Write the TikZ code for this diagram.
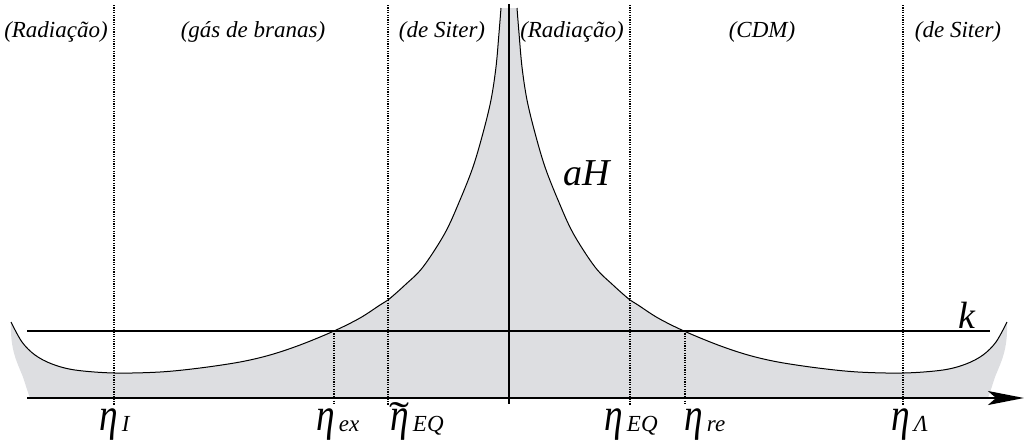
\documentclass[tikz,border=0pt]{standalone}
\usepackage{fontspec}
\setmainfont{Liberation Serif}
\usetikzlibrary{arrows.meta}
\definecolor{areagray}{RGB}{221,222,225}
\newcommand\etaglyph{\scalebox{0.85}[1.05]{\fontsize{22}{22}\selectfont\itshape η}}
\newcommand\etasub[2]{#1\kern2pt\raisebox{-0.5pt}{\fontsize{11.5}{12}\selectfont\itshape #2}}
\newcommand\etatilde{\makebox[0pt][l]{\kern0.5pt\raisebox{0.5pt}{\scalebox{1.5}[1]{\fontsize{20}{20}\selectfont\char"02DC}}}\kern1pt\etaglyph}
\begin{document}
\begin{tikzpicture}[x=0.5pt,y=-0.5pt,
  guide/.style={draw=black, line width=0.55pt, dash pattern=on 0.55pt off 0.65pt},
  curve/.style={line width=0.5pt},
  toplabel/.style={font=\fontsize{11.5}{13}\selectfont\itshape, anchor=base, inner sep=0pt},
  etalabel/.style={anchor=base west, inner sep=0pt},
  biglabel/.style={font=\fontsize{19}{19}\selectfont\itshape, anchor=base west, inner sep=0pt},
]
\useasboundingbox (0,0) rectangle (1025,441);
% shaded area and curve (left half, mirrored for right half)
\foreach \s/\o in {1/0,-1/1018}{
\begin{scope}[shift={(\o,0)}, xscale=\s]
\fill[areagray] (30,398) .. controls (27,390) and (26,386) .. (23,377)
  .. controls (17,362) and (10,350) .. (11,322)
  -- plot[smooth, tension=0.55] coordinates {(11,322) (22,342) (35,355) (52,364) (75,370) (114,373) (160,372) (200,368) (240,362) (270,355) (300,345) (334,331) (360,318) (380,305) (388,300) (405,285) (423,267) (445,233) (460,200) (473,167) (483,133) (491,100) (496,67) (499,33) (501,8)}
  -- (509,8) -- (509,398) -- cycle;
\draw[curve] plot[smooth, tension=0.55] coordinates {(11,322) (22,342) (35,355) (52,364) (75,370) (114,373) (160,372) (200,368) (240,362) (270,355) (300,345) (334,331) (360,318) (380,305) (388,300) (405,285) (423,267) (445,233) (460,200) (473,167) (483,133) (491,100) (496,67) (499,33) (501,8)};
\end{scope}
}
% guide lines
\draw[guide] (114,5) -- (114,405);
\draw[guide] (388,5) -- (388,405);
\draw[guide] (630,5) -- (630,405);
\draw[guide] (903,5) -- (903,405);
\draw[guide] (334,331) -- (334,405);
\draw[guide] (685,331) -- (685,405);
% axes
\coordinate (kL) at (27,331);
\coordinate (kR) at (990,331);
\draw[line width=0.75pt] (kL) -- (kR);
\coordinate (vT) at (509,4);
\coordinate (vB) at (509,404);
\draw[line width=0.8pt] (vT) -- (vB);
\coordinate (aL) at (27,398);
\coordinate (aR) at (1024,398);
\draw[line width=1pt, -{Stealth[length=18pt,width=7pt,inset=4pt]}] (aL) -- (aR);
% top labels
\node[toplabel] (t1) at (56,37) {(Radiação)};
\node[toplabel] (t2) at (253,37) {(gás de branas)};
\node[toplabel] (t3) at (442,37) {(de Siter)};
\node[toplabel] (t4) at (572,37) {(Radiação)};
\node[toplabel] (t5) at (762,37) {(CDM)};
\node[toplabel] (t6) at (958,37) {(de Siter)};
% curve labels
\node[biglabel] (aH) at (563,185) {aH};
\node[biglabel] (k) at (958,328) {k};
% eta labels
\node[etalabel] (e1) at (99,430) {\etasub{\etaglyph}{I}};
\node[etalabel] (e2) at (316,430) {\etasub{\etaglyph}{ex}};
\node[etalabel] (e3) at (388,430) {\etasub{\etatilde}{EQ}};
\node[etalabel] (e4) at (604,430) {\etasub{\etaglyph}{EQ}};
\node[etalabel] (e5) at (684,430) {\etasub{\etaglyph}{re}};
\node[etalabel] (e6) at (891,430) {\etasub{\etaglyph}{Λ}};
\end{tikzpicture}
\end{document}
